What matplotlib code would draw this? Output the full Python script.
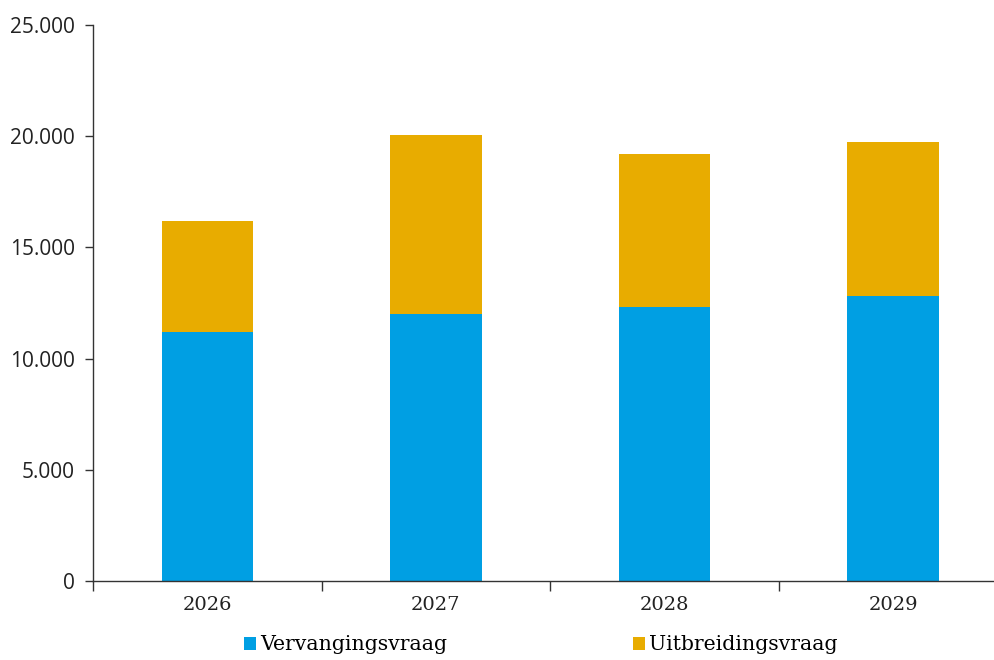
import matplotlib
matplotlib.use("Agg")
import matplotlib.pyplot as plt
from matplotlib.ticker import FuncFormatter, FixedLocator
import numpy as np

categories = ["2026", "2027", "2028", "2029"]
vervanging = [11200, 12000, 12300, 12800]
uitbreiding = [5000, 8050, 6900, 6950]
series_names = ["Vervangingsvraag", "Uitbreidingsvraag"]
yticks = [0, 5000, 10000, 15000, 20000, 25000]

blue = "#009FE3"
gold = "#E8AC00"

fig = plt.figure(figsize=(9.95, 6.60), dpi=100)
ax = fig.add_axes([93/995, 79/660, 914.5/995, 556/660])

x = np.arange(len(categories))
b1 = ax.bar(x, vervanging, width=0.4, color=blue, label=series_names[0])
b2 = ax.bar(x, uitbreiding, width=0.4, bottom=vervanging, color=gold, label=series_names[1])

ax.set_xlim(-0.5, 3.5)
ax.set_ylim(0, 25000)
ax.set_yticks(yticks)
ax.yaxis.set_major_formatter(FuncFormatter(lambda v, p: f"{int(v):,}".replace(",", ".")))

ax.set_xticks(x)
ax.set_xticklabels(categories, fontfamily="DejaVu Serif", fontsize=14)
ax.tick_params(axis="x", which="major", length=0, pad=11, colors="#222222")
ax.xaxis.set_minor_locator(FixedLocator(np.arange(-0.5, 4.0, 1.0)))
ax.tick_params(axis="x", which="minor", length=7, width=1, color="#333333")

ax.tick_params(axis="y", length=6, width=1, color="#333333", pad=7, labelsize=15)
for lab in ax.get_yticklabels():
    lab.set_fontfamily("Open Sans")
    lab.set_color("#222222")

for s in ["top", "right"]:
    ax.spines[s].set_visible(False)
for s in ["left", "bottom"]:
    ax.spines[s].set_color("#333333")
    ax.spines[s].set_linewidth(1)

fig.legend(handles=[b1, b2], loc="center", bbox_to_anchor=(541/995, 1 - 645/660),
           ncol=2, frameon=False, handlelength=0.6, handleheight=0.6, handletextpad=0.2,
           columnspacing=9.1, prop={"family": "DejaVu Serif", "size": 14.7})

fig.savefig("out.png", dpi=100)
